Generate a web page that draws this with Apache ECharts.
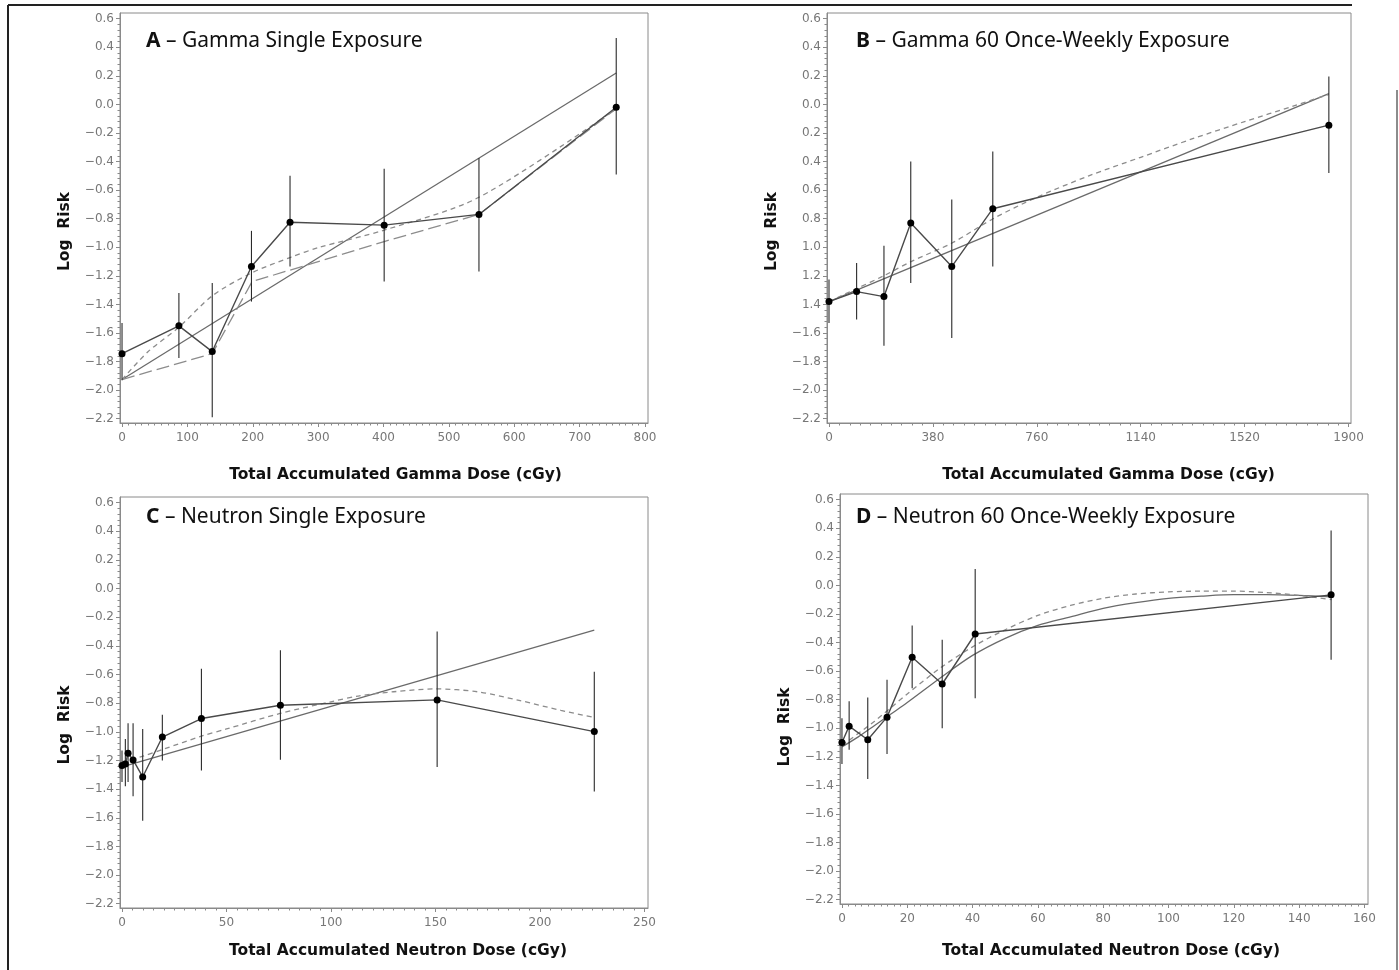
<!DOCTYPE html>
<html>
<head>
<meta charset="utf-8">
<title>Log Risk vs Total Accumulated Dose</title>
<script src="https://cdn.jsdelivr.net/npm/echarts@6/dist/echarts.min.js"></script>
<style>
html, body { margin: 0; padding: 0; background: #fff; }
#chart { width: 1399px; height: 970px; }
</style>
</head>
<body>
<div id="chart"></div>
<script>
// A - gamma single exposure
const doseA = [0, 87, 138, 198, 257, 401, 546, 756];
const riskA = [-1.745, -1.55, -1.73, -1.135, -0.825, -0.845, -0.77, -0.02];
const lowA = [-1.93, -1.775, -2.19, -1.38, -1.135, -1.24, -1.17, -0.49];
const highA = [-1.53, -1.32, -1.25, -0.885, -0.50, -0.45, -0.375, 0.465];
const linDoseA = [0, 756];
const linRiskA = [-1.926, 0.22];
const sdDoseA = [0, 40, 87, 138, 198, 258, 302, 401, 546, 756];
const sdRiskA = [-1.926, -1.73, -1.56, -1.34, -1.18, -1.07, -1.0, -0.88, -0.65, -0.03];
const ldDoseA = [0, 138, 199, 401, 546, 756];
const ldRiskA = [-1.926, -1.744, -1.24, -0.96, -0.77, -0.03];

// B - gamma 60 once-weekly
const doseB = [0, 101, 201, 299, 449, 599, 1828];
const riskB = [-1.38, -1.31, -1.345, -0.83, -1.135, -0.73, -0.145];
const lowB = [-1.53, -1.505, -1.69, -1.25, -1.635, -1.135, -0.48];
const highB = [-1.225, -1.11, -0.99, -0.40, -0.665, -0.33, 0.195];
const linDoseB = [0, 1828];
const linRiskB = [-1.38, 0.075];
const sdDoseB = [0, 100, 200, 300, 450, 600, 760, 950, 1140, 1330, 1520, 1700, 1828];
const sdRiskB = [-1.38, -1.29, -1.20, -1.10, -0.97, -0.80, -0.65, -0.50, -0.37, -0.24, -0.12, -0.01, 0.07];

// C - neutron single exposure
const doseC = [0, 1.6, 2.9, 5.3, 9.9, 19.3, 38, 75.8, 150.8, 226];
const riskC = [-1.235, -1.225, -1.15, -1.196, -1.315, -1.036, -0.907, -0.814, -0.777, -0.998];
const lowC = [-1.35, -1.38, -1.35, -1.45, -1.62, -1.20, -1.27, -1.195, -1.245, -1.416];
const highC = [-1.13, -1.05, -0.94, -0.94, -0.98, -0.88, -0.56, -0.43, -0.30, -0.58];
const linDoseC = [0, 226];
const linRiskC = [-1.245, -0.29];
const sdDoseC = [0, 10, 20, 38, 50, 76, 100, 113, 130, 150, 170, 190, 210, 226];
const sdRiskC = [-1.21, -1.17, -1.12, -1.03, -0.98, -0.87, -0.79, -0.75, -0.72, -0.70, -0.72, -0.78, -0.85, -0.90];

// D - neutron 60 once-weekly
const doseD = [0, 2.2, 7.9, 13.8, 21.5, 30.7, 40.8, 149.8];
const riskD = [-1.1, -0.985, -1.08, -0.922, -0.503, -0.69, -0.34, -0.066];
const lowD = [-1.25, -1.15, -1.355, -1.18, -0.72, -1.0, -0.79, -0.52];
const highD = [-0.93, -0.81, -0.785, -0.66, -0.28, -0.38, 0.115, 0.385];
const fitDoseD = [0, 5, 10, 15, 20, 30, 40, 50, 60, 70, 80, 90, 100, 110, 120, 130, 140, 150];
const fitRiskD = [-1.13, -1.06, -0.98, -0.90, -0.82, -0.65, -0.49, -0.37, -0.28, -0.22, -0.16, -0.12, -0.09, -0.075, -0.065, -0.065, -0.07, -0.08];
const sdDoseD = [0, 10, 20, 30, 40, 50, 60, 70, 80, 90, 100, 110, 120, 130, 140, 150];
const sdRiskD = [-1.12, -0.95, -0.76, -0.58, -0.43, -0.31, -0.21, -0.14, -0.09, -0.06, -0.045, -0.04, -0.04, -0.05, -0.07, -0.10];

// tick labels
const yTicks = [-2.2, -2.0, -1.8, -1.6, -1.4, -1.2, -1.0, -0.8, -0.6, -0.4, -0.2, 0.0, 0.2, 0.4, 0.6];
const yLabels = ['−2.2', '−2.0', '−1.8', '−1.6', '−1.4', '−1.2', '−1.0', '−0.8', '−0.6', '−0.4', '−0.2', '0.0', '0.2', '0.4', '0.6'];
const yLabelsB = ['−2.2', '−2.0', '−1.8', '−1.6', '1.4', '1.2', '1.0', '0.8', '0.6', '0.4', '0.2', '0.0', '0.2', '0.4', '0.6'];
const xTicksA = [0, 100, 200, 300, 400, 500, 600, 700, 800];
const xTicksB = [0, 380, 760, 1140, 1520, 1900];
const xTicksC = [0, 50, 100, 150, 200, 250];
const xTicksD = [0, 20, 40, 60, 80, 100, 120, 140, 160];

const pairs = (xs, ys) => xs.map((x, i) => [x, ys[i]]);
const bars = (xs, lo, hi) => xs.map((x, i) => [x, lo[i], hi[i]]);

function minorTicks(major, sub) {
  const t = [];
  for (let i = 0; i < major.length - 1; i++) {
    for (let k = 1; k < sub; k++) t.push(major[i] + (major[i + 1] - major[i]) * k / sub);
  }
  return t;
}

const panels = [
  { letter: 'A', title: 'Gamma Single Exposure', grid: [120, 13, 528, 410], xMin: -3.1, xMax: 804.6,
    xTicks: xTicksA, yLab: yLabels, xName: 'Total Accumulated Gamma Dose (cGy)', xPad: 23, yPad: 27, xGap: 44,
    titlePos: [146, 31],
    obs: pairs(doseA, riskA), err: bars(doseA, lowA, highA),
    fits: [
      { data: pairs(linDoseA, linRiskA), type: 'solid', smooth: false },
      { data: pairs(sdDoseA, sdRiskA), type: [5, 4], smooth: 0.3 },
      { data: pairs(ldDoseA, ldRiskA), type: [13, 5], smooth: false }
    ] },
  { letter: 'B', title: 'Gamma 60 Once-Weekly Exposure', grid: [827, 13, 524, 410], xMin: -7.3, xMax: 1909,
    xTicks: xTicksB, yLab: yLabelsB, xName: 'Total Accumulated Gamma Dose (cGy)', xPad: 39, yPad: 27, xGap: 44,
    titlePos: [856, 31],
    obs: pairs(doseB, riskB), err: bars(doseB, lowB, highB),
    fits: [
      { data: pairs(linDoseB, linRiskB), type: 'solid', smooth: false },
      { data: pairs(sdDoseB, sdRiskB), type: [5, 4], smooth: 0.3 }
    ] },
  { letter: 'C', title: 'Neutron Single Exposure', grid: [120, 497, 528, 411], xMin: -0.96, xMax: 251.7,
    xTicks: xTicksC, yLab: yLabels, xName: 'Total Accumulated Neutron Dose (cGy)', xPad: 28, yPad: 45, xGap: 35,
    titlePos: [146, 507],
    obs: pairs(doseC, riskC), err: bars(doseC, lowC, highC),
    fits: [
      { data: pairs(linDoseC, linRiskC), type: 'solid', smooth: false },
      { data: pairs(sdDoseC, sdRiskC), type: [5, 4], smooth: 0.3 }
    ] },
  { letter: 'D', title: 'Neutron 60 Once-Weekly Exposure', grid: [840, 494, 528, 410], xMin: -0.6, xMax: 161.1,
    xTicks: xTicksD, yLab: yLabels, xName: 'Total Accumulated Neutron Dose (cGy)', xPad: 14, yPad: 56, xGap: 39,
    titlePos: [856, 507],
    obs: pairs(doseD, riskD), err: bars(doseD, lowD, highD),
    fits: [
      { data: pairs(fitDoseD, fitRiskD), type: 'solid', smooth: 0.3 },
      { data: pairs(sdDoseD, sdRiskD), type: [5, 4], smooth: 0.3 }
    ] }
];

const axisGray = '#8a8a8a';
const labelStyle = { color: '#777', fontSize: 12, fontFamily: 'DejaVu Sans' };
const nameStyle = { color: '#111', fontSize: 15.5, fontWeight: 'bold', fontFamily: 'DejaVu Sans' };

const option = { animation: false, backgroundColor: '#fff', title: [], grid: [], xAxis: [], yAxis: [], series: [] };

panels.forEach((p, i) => {
  option.title.push({
    left: p.titlePos[0], top: p.titlePos[1], padding: 0,
    text: '{b|' + p.letter + '} – ' + p.title,
    textStyle: { fontSize: 21, fontWeight: 'normal', fontFamily: 'Noto Sans', color: '#111',
      rich: { b: { fontSize: 21, fontWeight: 'bold', fontFamily: 'Noto Sans', color: '#111' } } }
  });
  option.grid.push({ left: p.grid[0], top: p.grid[1], width: p.grid[2], height: p.grid[3],
    show: true, borderColor: axisGray, borderWidth: 1 });

  const yMap = {};
  yTicks.forEach((v, k) => { yMap[v.toFixed(1)] = p.yLab[k]; });

  // main axes
  option.xAxis.push({
    type: 'value', gridIndex: i, position: 'bottom', min: p.xMin, max: p.xMax,
    name: p.xName, nameLocation: 'middle', nameGap: p.xGap,
    nameTextStyle: Object.assign({ padding: [0, 0, 0, p.xPad] }, nameStyle),
    axisLine: { onZero: false, lineStyle: { color: axisGray } },
    axisTick: { length: 4, customValues: p.xTicks, lineStyle: { color: axisGray } },
    axisLabel: Object.assign({ customValues: p.xTicks, margin: 9, formatter: v => String(Math.round(v)) }, labelStyle),
    splitLine: { show: false }
  });
  option.yAxis.push({
    type: 'value', gridIndex: i, position: 'left', min: -2.23, max: 0.64,
    name: 'Log  Risk', nameLocation: 'middle', nameGap: 47,
    nameTextStyle: Object.assign({ padding: [0, p.yPad, 0, 0] }, nameStyle),
    axisLine: { onZero: false, lineStyle: { color: axisGray } },
    axisTick: { length: 4, customValues: yTicks, lineStyle: { color: axisGray } },
    axisLabel: Object.assign({ customValues: yTicks, margin: 6, formatter: v => yMap[v.toFixed(1)] }, labelStyle),
    splitLine: { show: false }
  });
  // minor tick axes
  option.xAxis.push({
    type: 'value', gridIndex: i, position: 'bottom', min: p.xMin, max: p.xMax,
    axisLine: { show: false, onZero: false }, axisLabel: { show: false }, splitLine: { show: false },
    axisTick: { length: 2.5, customValues: minorTicks(p.xTicks, 10), lineStyle: { color: axisGray } }
  });
  option.yAxis.push({
    type: 'value', gridIndex: i, position: 'left', min: -2.23, max: 0.64,
    axisLine: { show: false, onZero: false }, axisLabel: { show: false }, splitLine: { show: false },
    axisTick: { length: 2.5, customValues: minorTicks(yTicks, 5), lineStyle: { color: axisGray } }
  });

  const xi = 2 * i, yi = 2 * i;
  p.fits.forEach(f => {
    option.series.push({
      type: 'line', xAxisIndex: xi, yAxisIndex: yi, data: f.data, smooth: f.smooth,
      symbol: 'none', z: 2,
      lineStyle: { color: f.type === 'solid' ? '#6a6a6a' : '#8c8c8c', width: 1.3, type: f.type }
    });
  });
  option.series.push({
    type: 'custom', xAxisIndex: xi, yAxisIndex: yi, data: p.err, z: 3,
    encode: { x: 0, y: [1, 2] },
    renderItem: (params, api) => {
      const a = api.coord([api.value(0), api.value(1)]);
      const b = api.coord([api.value(0), api.value(2)]);
      return { type: 'line', shape: { x1: a[0], y1: a[1], x2: b[0], y2: b[1] },
        style: { stroke: '#2a2a2a', lineWidth: 1.1 } };
    }
  });
  option.series.push({
    type: 'line', xAxisIndex: xi, yAxisIndex: yi, data: p.obs, z: 4,
    symbol: 'circle', symbolSize: 7,
    itemStyle: { color: '#000' },
    lineStyle: { color: '#4a4a4a', width: 1.4 }
  });
});

// scanned page border
option.graphic = [
  { type: 'line', shape: { x1: 8, y1: 5, x2: 1352, y2: 5 }, style: { stroke: '#222', lineWidth: 2 } },
  { type: 'line', shape: { x1: 8, y1: 5, x2: 8, y2: 970 }, style: { stroke: '#222', lineWidth: 2 } },
  { type: 'line', shape: { x1: 1397, y1: 90, x2: 1397, y2: 970 }, style: { stroke: '#666', lineWidth: 1.5 } }
];

const chart = echarts.init(document.getElementById('chart'));
chart.setOption(option);
</script>
</body>
</html>
